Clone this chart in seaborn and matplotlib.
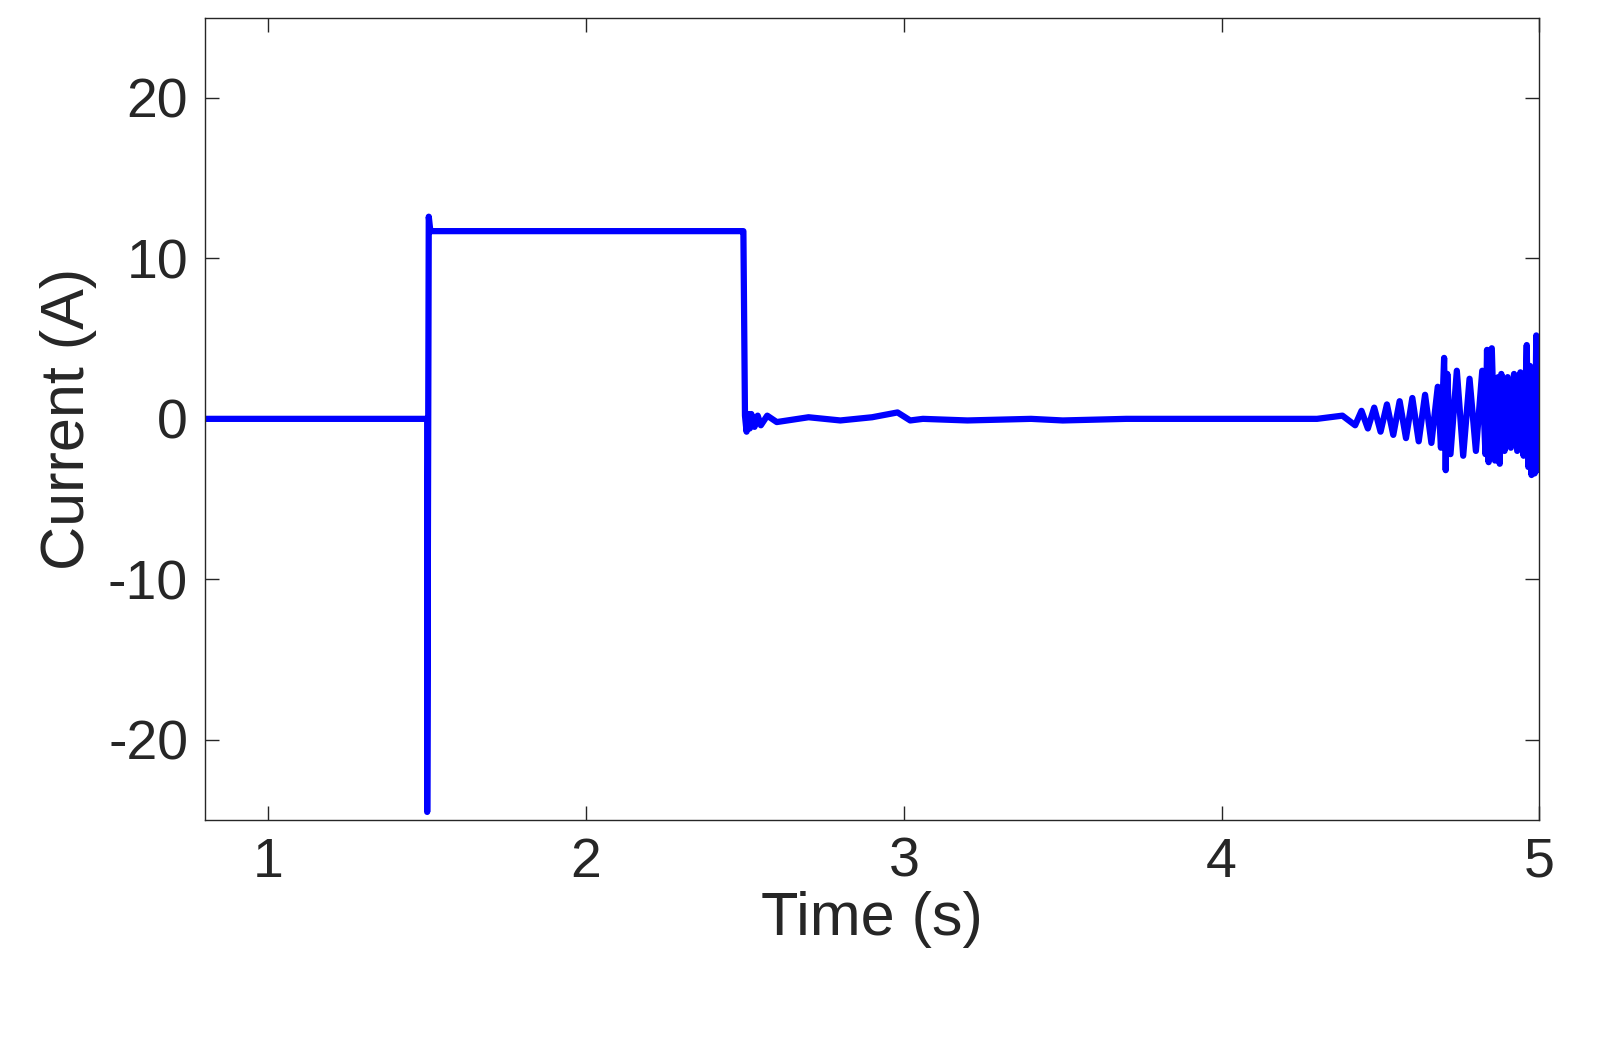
import matplotlib
matplotlib.use("Agg")
import matplotlib.pyplot as plt
import seaborn as sns
import pandas as pd

sns.set_style("white")
plt.rcParams['font.family'] = ['Arial', 'Liberation Sans', 'DejaVu Sans']

time = [0.8, 1.499, 1.5, 1.5, 1.505, 1.51, 1.52, 2.0, 2.49, 2.495, 2.5, 2.505,
        2.51, 2.515, 2.52, 2.53, 2.54, 2.55, 2.57, 2.6, 2.7, 2.8, 2.9, 2.98, 3.02, 3.06, 3.2, 3.4, 3.5,
        3.7, 4.0, 4.3, 4.38, 4.42, 4.44, 4.46, 4.48, 4.50, 4.52, 4.54, 4.56, 4.58,
        4.60, 4.62, 4.64, 4.66, 4.68, 4.69, 4.70, 4.705, 4.71, 4.72, 4.74, 4.76,
        4.78, 4.80, 4.82, 4.83, 4.835, 4.84, 4.85, 4.86, 4.87, 4.875, 4.88, 4.89,
        4.90, 4.91, 4.92, 4.93, 4.94, 4.95, 4.96, 4.965, 4.97, 4.975, 4.98, 4.985,
        4.99, 4.995, 5.0]
current = [0.0, 0.0, 0.0, -24.5, 12.6, 11.7, 11.7, 11.7, 11.7, 11.7, 0.2, -0.8,
           0.3, -0.6, 0.3, -0.5, 0.2, -0.4, 0.2, -0.2, 0.1, -0.1, 0.1, 0.4, -0.1, 0.0, -0.1, 0.0, -0.1,
           0.0, 0.0, 0.0, 0.2, -0.4, 0.5, -0.6, 0.7, -0.8, 0.9, -1.0, 1.1, -1.2,
           1.3, -1.4, 1.5, -1.5, 2.0, -1.8, 3.8, -3.2, 2.8, -2.2, 3.0, -2.3,
           2.5, -2.0, 3.0, -2.2, 4.3, -2.7, 4.4, -2.6, 2.6, -2.8, 2.8, -2.0,
           2.6, -1.8, 2.8, -2.0, 2.9, -2.3, 4.6, -3.0, 3.3, -3.5, 3.0, -3.4,
           5.2, -3.2, 0.0]

df = pd.DataFrame({"time": time, "current": current})

fig = plt.figure(figsize=(16.12, 10.44), dpi=100)
ax = fig.add_axes([0.127, 0.2146, 0.828, 0.7684])
sns.lineplot(data=df, x="time", y="current", ax=ax, color=(0, 0, 1),
             linewidth=4.5, sort=False, estimator=None)
ax.set_xlim(0.8, 5.0)
ax.set_ylim(-25, 25)
ax.set_xticks([1, 2, 3, 4, 5])
ax.set_yticks([-20, -10, 0, 10, 20])
ax.set_yticklabels(["-20", "-10", "0", "10", "20"])
ax.tick_params(labelsize=40, colors="#262626", direction="in", length=10,
               top=True, right=True, bottom=True, left=True, width=1, pad=12)
ax.set_xlabel("Time (s)", fontsize=44, color="#262626", labelpad=2)
ax.set_ylabel("Current (A)", fontsize=44, color="#262626", labelpad=8)
for s in ax.spines.values():
    s.set_color("#262626")
    s.set_linewidth(1)
fig.savefig("out.png", dpi=100)
